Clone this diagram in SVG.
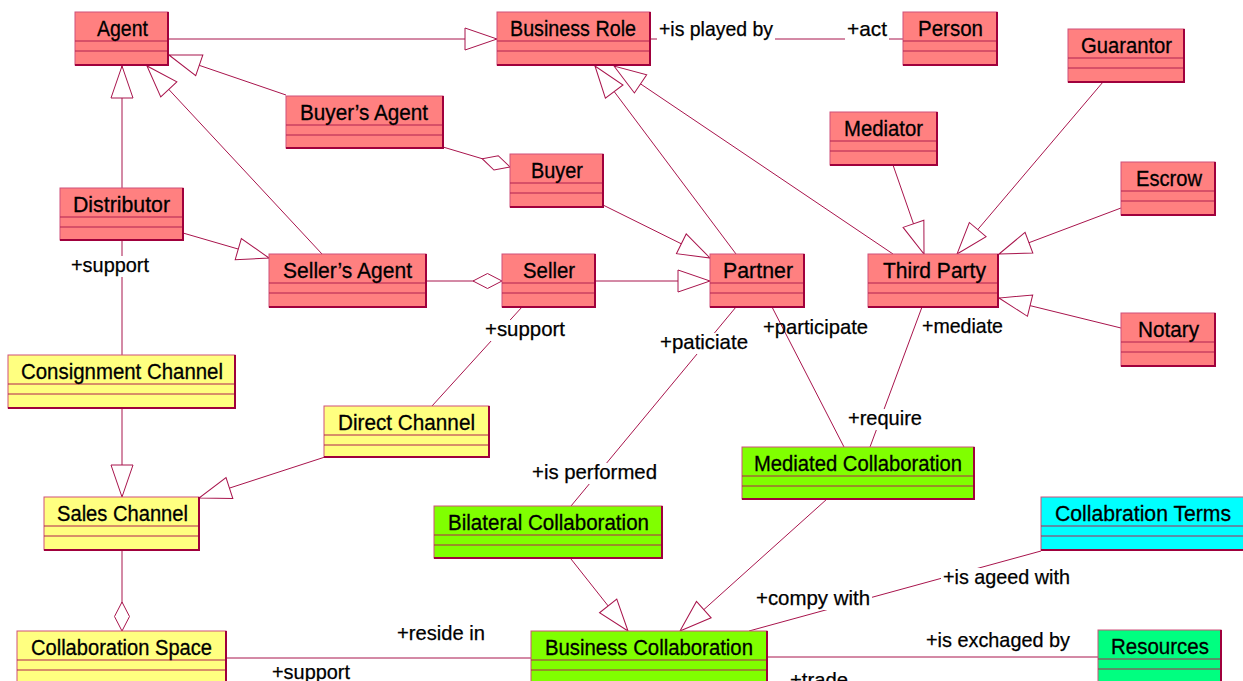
<svg xmlns="http://www.w3.org/2000/svg" width="1243" height="681" viewBox="0 0 1243 681">
<style>
.bx{stroke:#D0507A;stroke-width:1}
.sh{fill:none;stroke:#A0003C;stroke-width:2}
.dv{fill:none;stroke:#B02050;stroke-width:1}
.red{fill:#FF8080}.yel{fill:#FFFF80}.grn{fill:#80FF00}.cyn{fill:#00FFFF}.sgr{fill:#00FF80}
.t{font-family:"Liberation Sans",Arial,sans-serif;font-size:22px;fill:#000;stroke:#000;stroke-width:0.3}
.l{font-family:"Liberation Sans",Arial,sans-serif;font-size:21px;fill:#000;stroke:#000;stroke-width:0.25}
.c{fill:none;stroke:#A8144C;stroke-width:1}
.g{marker-end:url(#tri)}
.a{marker-end:url(#dia)}
.bg{fill:#fff}
</style>
<defs>
<marker id="tri" markerUnits="userSpaceOnUse" viewBox="-34 -13 36 26" refX="0" refY="0" markerWidth="36" markerHeight="26" orient="auto" overflow="visible">
<path d="M0,0 L-32,-11 L-32,11 Z" fill="#fff" stroke="#A8144C" stroke-width="1"/>
</marker>
<marker id="dia" markerUnits="userSpaceOnUse" viewBox="-31 -10 33 20" refX="0" refY="0" markerWidth="33" markerHeight="20" orient="auto" overflow="visible">
<path d="M0,0 L-14.5,-7.5 L-29,0 L-14.5,7.5 Z" fill="#fff" stroke="#A8144C" stroke-width="1"/>
</marker>
</defs>
<rect width="1243" height="681" fill="#fff"/>
<g id="connectors">
<path class="c g" d="M168,39 L497,39"/>
<path class="c g" d="M286,95 L169,55"/>
<path class="c g" d="M322,254 L147,66"/>
<path class="c g" d="M122,188 L122,66"/>
<path class="c g" d="M183,233 L269,258"/>
<path class="c" d="M122,240 L122,355"/>
<path class="c g" d="M122,408 L122,497"/>
<path class="c g" d="M325,457 L199,498"/>
<path class="c a" d="M122,550 L122,631"/>
<path class="c" d="M226,658 L531,658"/>
<path class="c a" d="M426,281 L502,281"/>
<path class="c a" d="M443,147 L510,167"/>
<path class="c g" d="M603,205 L710,258"/>
<path class="c g" d="M595,281 L710,281"/>
<path class="c g" d="M736,254 L595,66"/>
<path class="c g" d="M893,254 L614,66"/>
<path class="c g" d="M893,165 L924,254"/>
<path class="c g" d="M1103,82 L957,254"/>
<path class="c g" d="M1121,208 L999,254"/>
<path class="c g" d="M1121,328 L999,298"/>
<path class="c" d="M522,307 L432,406"/>
<path class="c" d="M736,307 L571,506"/>
<path class="c" d="M772,307 L844,447"/>
<path class="c" d="M922,307 L870,447"/>
<path class="c g" d="M571,559 L628,631"/>
<path class="c g" d="M827,499 L680,631"/>
<path class="c" d="M749,631 L1041,551"/>
<path class="c" d="M650,39 L903,39"/>
<path class="c" d="M767,657 L1098,657"/>
</g>
<g id="labels">
<rect class="bg" x="69" y="256" width="82" height="21"/><text class="l" x="71" y="272" textLength="78" lengthAdjust="spacingAndGlyphs">+support</text>
<rect class="bg" x="657" y="20" width="118" height="21"/><text class="l" x="659" y="36" textLength="114" lengthAdjust="spacingAndGlyphs">+is played by</text>
<rect class="bg" x="845" y="20" width="44" height="21"/><text class="l" x="847" y="36" textLength="40" lengthAdjust="spacingAndGlyphs">+act</text>
<rect class="bg" x="483" y="320" width="84" height="21"/><text class="l" x="485" y="336" textLength="80" lengthAdjust="spacingAndGlyphs">+support</text>
<rect class="bg" x="658" y="333" width="92" height="21"/><text class="l" x="660" y="349" textLength="88" lengthAdjust="spacingAndGlyphs">+paticiate</text>
<text class="l" x="763" y="334" textLength="105" lengthAdjust="spacingAndGlyphs">+participate</text>
<rect class="bg" x="920" y="317" width="85" height="21"/><text class="l" x="922" y="333" textLength="81" lengthAdjust="spacingAndGlyphs">+mediate</text>
<rect class="bg" x="846" y="409" width="78" height="21"/><text class="l" x="848" y="425" textLength="74" lengthAdjust="spacingAndGlyphs">+require</text>
<rect class="bg" x="530" y="463" width="129" height="21"/><text class="l" x="532" y="479" textLength="125" lengthAdjust="spacingAndGlyphs">+is performed</text>
<rect class="bg" x="754" y="589" width="118" height="21"/><text class="l" x="756" y="605" textLength="114" lengthAdjust="spacingAndGlyphs">+compy with</text>
<rect class="bg" x="941" y="568" width="131" height="21"/><text class="l" x="943" y="584" textLength="127" lengthAdjust="spacingAndGlyphs">+is ageed with</text>
<text class="l" x="926" y="647" textLength="144" lengthAdjust="spacingAndGlyphs">+is exchaged by</text>
<text class="l" x="790" y="687" textLength="58" lengthAdjust="spacingAndGlyphs">+trade</text>
<text class="l" x="397" y="640" textLength="88" lengthAdjust="spacingAndGlyphs">+reside in</text>
<text class="l" x="272" y="679" textLength="78" lengthAdjust="spacingAndGlyphs">+support</text>
</g>
<g id="agent"><rect class="bx red" x="75" y="12" width="93" height="53"/><path class="dv" d="M75,41 H168 M75,51 H168"/><path class="sh" d="M168,12 V65 H75"/><text class="t" x="97" y="36" textLength="51" lengthAdjust="spacingAndGlyphs">Agent</text></g>
<g id="business-role"><rect class="bx red" x="497" y="12" width="153" height="53"/><path class="dv" d="M497,41 H650 M497,51 H650"/><path class="sh" d="M650,12 V65 H497"/><text class="t" x="510" y="36" textLength="126" lengthAdjust="spacingAndGlyphs">Business Role</text></g>
<g id="person"><rect class="bx red" x="903" y="12" width="94" height="53"/><path class="dv" d="M903,41 H997 M903,51 H997"/><path class="sh" d="M997,12 V65 H903"/><text class="t" x="918" y="36" textLength="65" lengthAdjust="spacingAndGlyphs">Person</text></g>
<g id="guarantor"><rect class="bx red" x="1068" y="29" width="116" height="53"/><path class="dv" d="M1068,58 H1184 M1068,68 H1184"/><path class="sh" d="M1184,29 V82 H1068"/><text class="t" x="1081" y="53" textLength="91" lengthAdjust="spacingAndGlyphs">Guarantor</text></g>
<g id="mediator"><rect class="bx red" x="830" y="112" width="107" height="53"/><path class="dv" d="M830,141 H937 M830,151 H937"/><path class="sh" d="M937,112 V165 H830"/><text class="t" x="844" y="136" textLength="79" lengthAdjust="spacingAndGlyphs">Mediator</text></g>
<g id="escrow"><rect class="bx red" x="1121" y="162" width="94" height="53"/><path class="dv" d="M1121,191 H1215 M1121,201 H1215"/><path class="sh" d="M1215,162 V215 H1121"/><text class="t" x="1136" y="186" textLength="66" lengthAdjust="spacingAndGlyphs">Escrow</text></g>
<g id="third-party"><rect class="bx red" x="868" y="254" width="130" height="53"/><path class="dv" d="M868,283 H998 M868,293 H998"/><path class="sh" d="M998,254 V307 H868"/><text class="t" x="883" y="278" textLength="103" lengthAdjust="spacingAndGlyphs">Third Party</text></g>
<g id="notary"><rect class="bx red" x="1121" y="313" width="94" height="53"/><path class="dv" d="M1121,342 H1215 M1121,352 H1215"/><path class="sh" d="M1215,313 V366 H1121"/><text class="t" x="1138" y="337" textLength="61" lengthAdjust="spacingAndGlyphs">Notary</text></g>
<g id="buyers-agent"><rect class="bx red" x="286" y="96" width="157" height="52"/><path class="dv" d="M286,125 H443 M286,135 H443"/><path class="sh" d="M443,96 V148 H286"/><text class="t" x="300" y="120" textLength="128" lengthAdjust="spacingAndGlyphs">Buyer’s Agent</text></g>
<g id="distributor"><rect class="bx red" x="60" y="188" width="123" height="52"/><path class="dv" d="M60,217 H183 M60,227 H183"/><path class="sh" d="M183,188 V240 H60"/><text class="t" x="73" y="212" textLength="97" lengthAdjust="spacingAndGlyphs">Distributor</text></g>
<g id="sellers-agent"><rect class="bx red" x="269" y="254" width="157" height="53"/><path class="dv" d="M269,283 H426 M269,293 H426"/><path class="sh" d="M426,254 V307 H269"/><text class="t" x="283" y="278" textLength="129" lengthAdjust="spacingAndGlyphs">Seller’s Agent</text></g>
<g id="buyer"><rect class="bx red" x="510" y="154" width="93" height="53"/><path class="dv" d="M510,183 H603 M510,193 H603"/><path class="sh" d="M603,154 V207 H510"/><text class="t" x="531" y="178" textLength="52" lengthAdjust="spacingAndGlyphs">Buyer</text></g>
<g id="seller"><rect class="bx red" x="502" y="254" width="93" height="53"/><path class="dv" d="M502,283 H595 M502,293 H595"/><path class="sh" d="M595,254 V307 H502"/><text class="t" x="523" y="278" textLength="52" lengthAdjust="spacingAndGlyphs">Seller</text></g>
<g id="partner"><rect class="bx red" x="710" y="254" width="94" height="53"/><path class="dv" d="M710,283 H804 M710,293 H804"/><path class="sh" d="M804,254 V307 H710"/><text class="t" x="723" y="278" textLength="70" lengthAdjust="spacingAndGlyphs">Partner</text></g>
<g id="consignment-channel"><rect class="bx yel" x="8" y="355" width="227" height="53"/><path class="dv" d="M8,384 H235 M8,394 H235"/><path class="sh" d="M235,355 V408 H8"/><text class="t" x="21" y="379" textLength="202" lengthAdjust="spacingAndGlyphs">Consignment Channel</text></g>
<g id="direct-channel"><rect class="bx yel" x="324" y="406" width="165" height="51"/><path class="dv" d="M324,435 H489 M324,445 H489"/><path class="sh" d="M489,406 V457 H324"/><text class="t" x="338" y="430" textLength="137" lengthAdjust="spacingAndGlyphs">Direct Channel</text></g>
<g id="sales-channel"><rect class="bx yel" x="44" y="497" width="155" height="53"/><path class="dv" d="M44,526 H199 M44,536 H199"/><path class="sh" d="M199,497 V550 H44"/><text class="t" x="57" y="521" textLength="131" lengthAdjust="spacingAndGlyphs">Sales Channel</text></g>
<g id="collaboration-space"><rect class="bx yel" x="17" y="631" width="209" height="53"/><path class="dv" d="M17,660 H226 M17,670 H226"/><path class="sh" d="M226,631 V684 H17"/><text class="t" x="31" y="655" textLength="181" lengthAdjust="spacingAndGlyphs">Collaboration Space</text></g>
<g id="mediated-collaboration"><rect class="bx grn" x="742" y="447" width="232" height="52"/><path class="dv" d="M742,476 H974 M742,486 H974"/><path class="sh" d="M974,447 V499 H742"/><text class="t" x="754" y="471" textLength="208" lengthAdjust="spacingAndGlyphs">Mediated Collaboration</text></g>
<g id="bilateral-collaboration"><rect class="bx grn" x="434" y="506" width="228" height="52"/><path class="dv" d="M434,535 H662 M434,545 H662"/><path class="sh" d="M662,506 V558 H434"/><text class="t" x="448" y="530" textLength="201" lengthAdjust="spacingAndGlyphs">Bilateral Collaboration</text></g>
<g id="collabration-terms"><rect class="bx cyn" x="1041" y="497" width="210" height="53"/><path class="dv" d="M1041,526 H1251 M1041,536 H1251"/><path class="sh" d="M1041,550 H1251"/><text class="t" x="1055" y="521" textLength="176" lengthAdjust="spacingAndGlyphs">Collabration Terms</text></g>
<g id="business-collaboration"><rect class="bx grn" x="531" y="631" width="236" height="53"/><path class="dv" d="M531,660 H767 M531,670 H767"/><path class="sh" d="M767,631 V684 H531"/><text class="t" x="545" y="655" textLength="208" lengthAdjust="spacingAndGlyphs">Business Collaboration</text></g>
<g id="resources"><rect class="bx sgr" x="1098" y="630" width="123" height="53"/><path class="dv" d="M1098,659 H1221 M1098,669 H1221"/><path class="sh" d="M1221,630 V683 H1098"/><text class="t" x="1111" y="654" textLength="98" lengthAdjust="spacingAndGlyphs">Resources</text></g>
</svg>
